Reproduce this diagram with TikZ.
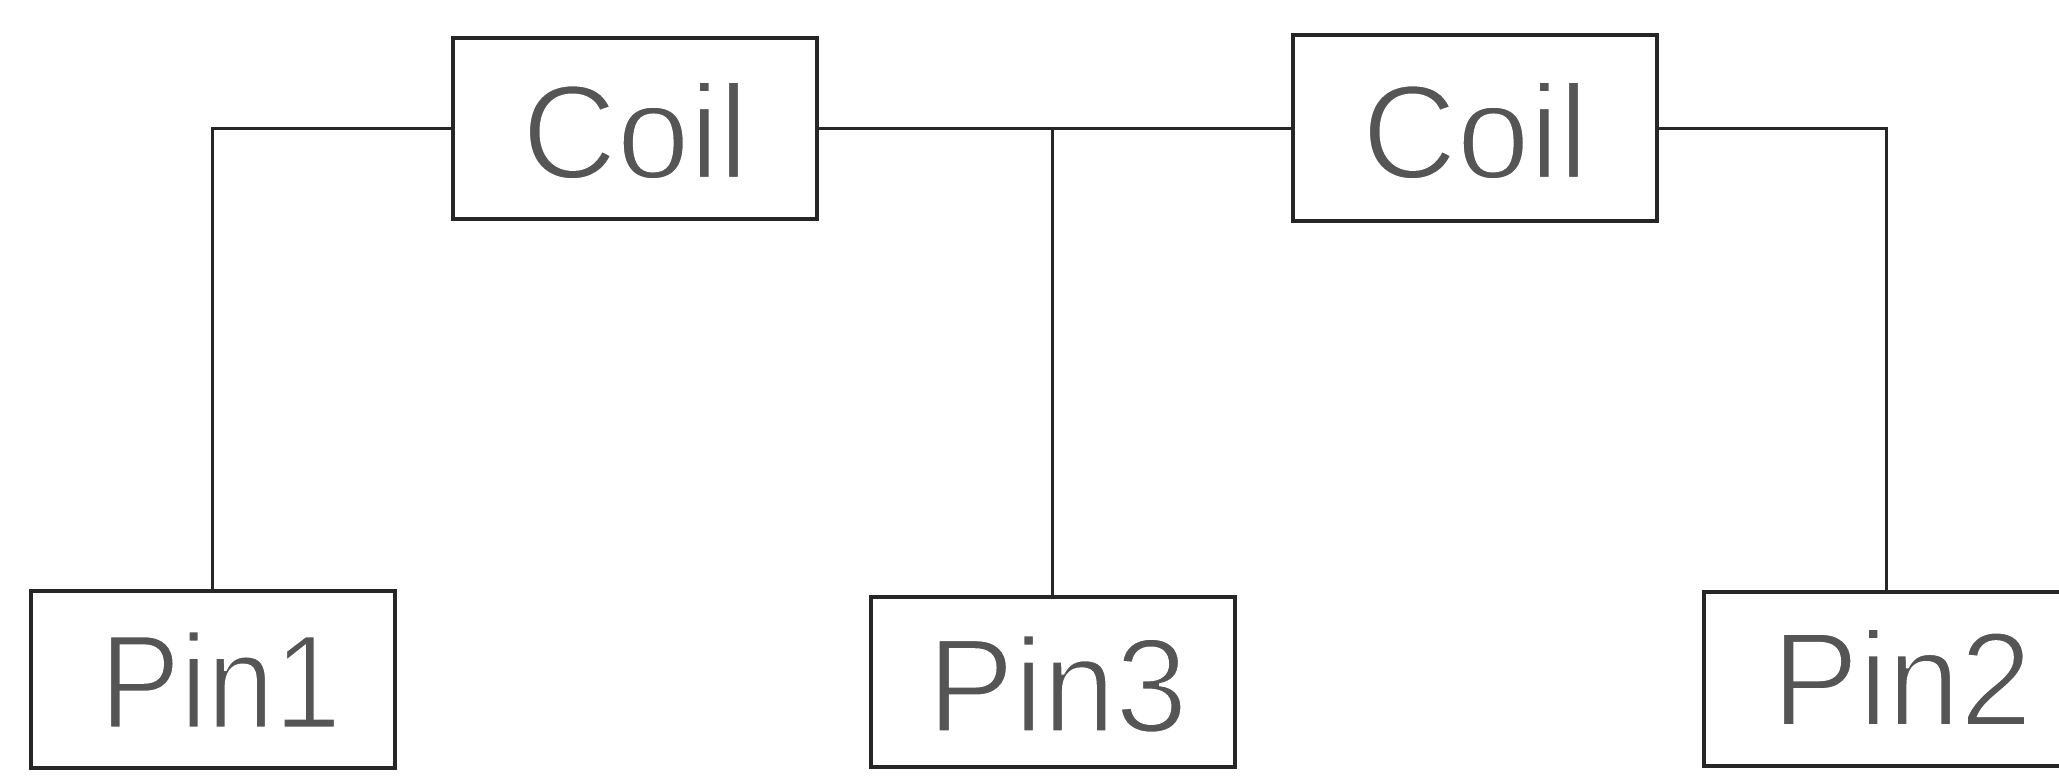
\documentclass[tikz,border=0pt]{standalone}
\usepackage{fontspec}
\setmainfont{Liberation Sans}
\definecolor{wire}{HTML}{262626}
\definecolor{txt}{HTML}{555555}
% #1 horizontal shift, #2 vertical shift, #3 horizontal scale, #4 text
\newcommand\thintext[4]{\hspace*{#1}\raisebox{#2}[\height][\depth]{\scalebox{#3}[1]{\special{pdf:literal direct 2 Tr 1 1 1 RG 3 w}#4\special{pdf:literal direct 0 Tr}}}\hspace*{-#1}}
\begin{document}
\begin{tikzpicture}[x=1pt,y=1pt,
  blk/.style={draw=wire, line width=4pt, fill=white, text=txt, inner sep=0pt,
    font=\fontsize{134}{150}\selectfont, minimum width=364pt},
  wirel/.style={draw=wire, line width=3pt}]
\clip (0,0) rectangle (2059,776);
\fill[white] (0,0) rectangle (2059,776);
\node[blk, minimum height=181pt] (c1) at (635,647.5) {\thintext{0pt}{-2pt}{0.98}{Coil}};
\node[blk, minimum height=186pt] (c2) at (1475,647.5) {\thintext{0pt}{-2pt}{0.98}{Coil}};
\node[blk, minimum height=177pt] (p1) at (212.5,96.5) {\thintext{8pt}{0pt}{0.9}{Pin1}};
\node[blk, minimum height=170pt] (p3) at (1052.5,94) {\thintext{5pt}{-2pt}{0.97}{Pin3}};
\node[blk, minimum height=174pt] (p2) at (1886,97) {\thintext{16pt}{2pt}{0.97}{Pin2}};
\coordinate (j) at (p3.north |- c1.east);
\draw[wirel] (c1.west) -| (p1.north);
\draw[wirel] (c1.east) -- (c2.west);
\draw[wirel] (j) -- (p3.north);
\draw[wirel] (c2.east) -| (p2.north);
\end{tikzpicture}
\end{document}
